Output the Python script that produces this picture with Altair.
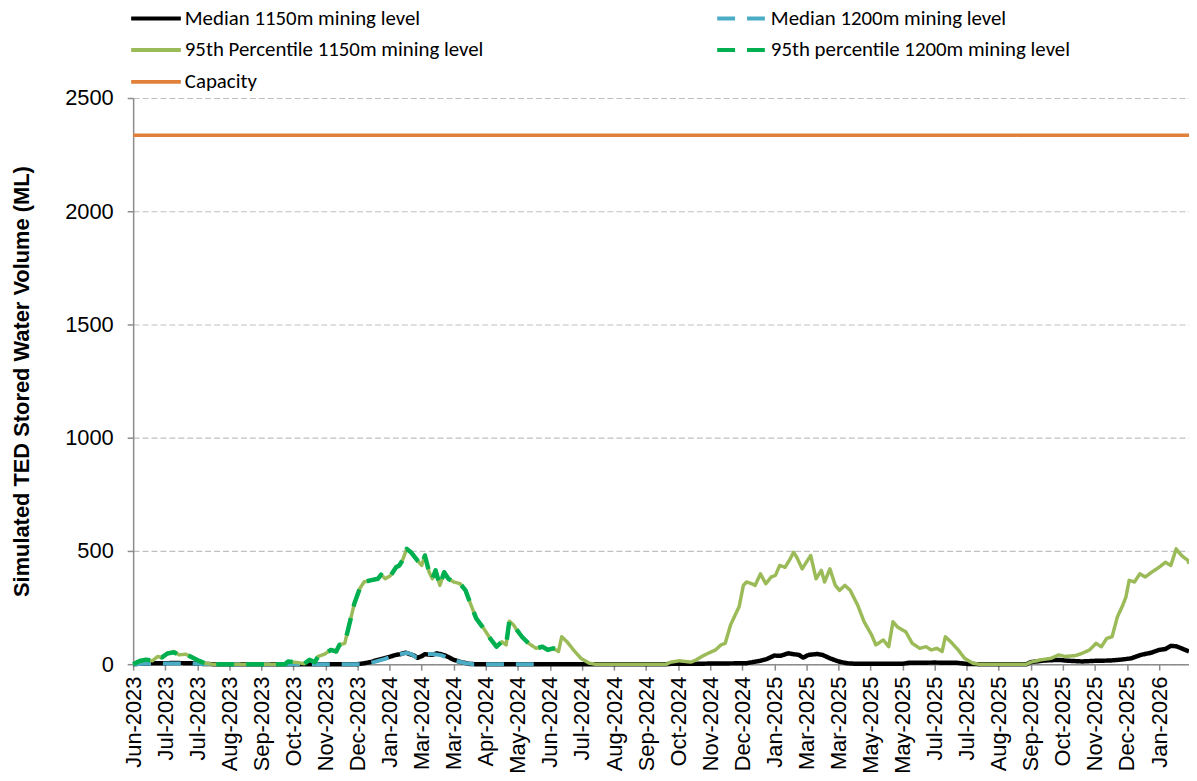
import altair as alt
import pandas as pd

# ---------------- data ----------------
MED_1150 = "Median 1150m mining level"
MED_1200 = "Median 1200m mining level"
P95_1150 = "95th Percentile 1150m mining level"
P95_1200 = "95th percentile 1200m mining level"
CAPACITY = "Capacity"

# legend order (filled column by column: left column first)
LEGEND_ORDER = [MED_1150, P95_1150, CAPACITY, MED_1200, P95_1200]
LEGEND_COLORS = ["#000000", "#9BBB59", "#E0803A", "#4BACC6", "#00B050"]
LEGEND_DASHES = [[1, 0], [1, 0], [1, 0], [18, 12], [18, 12]]

tick_labels = [
    "Jun-2023", "Jul-2023", "Jul-2023", "Aug-2023", "Sep-2023", "Oct-2023",
    "Nov-2023", "Dec-2023", "Jan-2024", "Mar-2024", "Mar-2024", "Apr-2024",
    "May-2024", "Jun-2024", "Jul-2024", "Aug-2024", "Sep-2024", "Oct-2024",
    "Nov-2024", "Dec-2024", "Jan-2025", "Mar-2025", "Mar-2025", "May-2025",
    "May-2025", "Jul-2025", "Jul-2025", "Aug-2025", "Sep-2025", "Oct-2025",
    "Nov-2025", "Dec-2025", "Jan-2026",
]
tick_step = 30
x_end = 988

p95_1150_day = [0, 6, 12, 18, 23, 27, 32, 38, 43, 49, 54, 60, 67, 74, 142, 145, 154, 160, 165, 170,
                173, 179, 185, 190, 193, 198, 201, 204, 207, 212, 216, 222, 229, 232, 236, 241, 246,
                249, 252, 256, 260, 266, 270, 273, 277, 280, 283, 287, 291, 295, 300, 306, 311, 315,
                321, 328, 334, 340, 345, 349, 352, 356, 359, 364, 370, 377, 383, 388, 393, 398, 401,
                406, 412, 419, 427, 432, 499, 503, 511, 522, 527, 532, 538, 545, 550, 554, 559, 564,
                567, 571, 574, 579, 582, 587, 592, 597, 601, 605, 610, 614, 618, 621, 626, 629, 634,
                639, 644, 647, 652, 657, 661, 666, 671, 678, 684, 691, 695, 702, 707, 711, 715, 723,
                729, 736, 742, 747, 752, 757, 760, 765, 772, 778, 786, 791, 836, 840, 849, 859, 866,
                872, 882, 888, 895, 901, 906, 911, 916, 921, 926, 929, 932, 937, 942, 947, 953, 960,
                966, 971, 976, 981, 987, 988]
p95_1150_val = [0, 12, 19, 15, 34, 29, 48, 56, 41, 44, 34, 19, 4, 0, 0, 12, 7, 2, 19, 9,
                34, 44, 63, 56, 85, 92, 151, 209, 268, 333, 363, 370, 377, 395, 377, 392, 428,
                436, 458, 509, 494, 458, 436, 480, 406, 377, 414, 348, 406, 377, 363, 355, 326, 275,
                202, 158, 114, 77, 99, 85, 190, 173, 151, 120, 92, 70, 77, 63, 70, 56, 121,
                99, 63, 26, 4, 0, 0, 9, 15, 9, 19, 34, 48, 63, 85, 92, 173, 224,
                253, 348, 363, 355, 348, 399, 355, 385, 392, 436, 428, 458, 494, 472, 421, 443, 480,
                377, 414, 363, 421, 348, 326, 348, 326, 260, 187, 129, 85, 107, 77, 187, 165, 143,
                92, 70, 77, 63, 70, 56, 121, 99, 63, 26, 4, 0, 0, 9, 19, 26, 41,
                34, 38, 48, 63, 92, 77, 114, 121, 209, 260, 297, 370, 363, 399, 385, 406, 428,
                450, 436, 509, 480, 458, 443]

p95_1200_day = [0, 6, 12, 18, 23, 27, 32, 38, 43, 49, 54, 60, 67, 74, 142, 145, 154, 160, 165, 170,
                173, 179, 185, 190, 193, 198, 201, 204, 207, 212, 216, 222, 229, 232, 236, 241, 246,
                249, 252, 256, 260, 266, 270, 273, 277, 280, 283, 287, 291, 295, 300, 306, 311, 315,
                321, 328, 334, 340, 345, 349, 352, 356, 359, 364, 370, 377, 383, 388, 393, 395]
p95_1200_val = [0, 14, 20, 16, 33, 30, 47, 52, 42, 45, 33, 18, 4, 0, 0, 12, 7, 2, 19, 9,
                34, 44, 63, 56, 85, 92, 151, 209, 268, 333, 363, 370, 377, 395, 377, 392, 428,
                436, 458, 509, 494, 458, 436, 480, 406, 377, 414, 348, 406, 377, 363, 355, 326, 275,
                202, 158, 114, 77, 99, 85, 190, 173, 151, 120, 92, 70, 77, 63, 70, 68]

med_1150_day = [0, 10, 20, 40, 55, 65, 75, 210, 216, 222, 229, 235, 241, 246, 250, 255, 259, 263,
                266, 270, 273, 280, 284, 288, 292, 296, 300, 305, 309, 315, 320, 499, 505, 530, 545,
                574, 577, 587, 593, 600, 606, 613, 618, 623, 627, 632, 640, 645, 652, 660, 668, 675,
                720, 726, 750, 771, 781, 791, 836, 840, 852, 866, 875, 888, 901, 914, 924, 934, 943,
                953, 960, 966, 971, 976, 981, 988]
med_1150_val = [0, 3, 4, 5, 4, 1, 0, 0, 4, 9, 19, 26, 34, 41, 44, 51, 44, 38,
                28, 35, 44, 41, 48, 44, 38, 29, 19, 12, 7, 1, 0, 0, 2, 2, 3,
                4, 7, 15, 23, 38, 37, 48, 44, 41, 29, 41, 45, 41, 26, 12, 4, 2,
                2, 6, 7, 6, 1, 0, 0, 9, 16, 19, 15, 12, 15, 16, 20, 26, 41,
                51, 63, 67, 81, 79, 70, 56]

med_1200_day = [0, 10, 20, 40, 55, 65, 75, 215, 225, 235, 245, 252, 256, 260, 265, 270, 275, 282,
                288, 295, 302, 310, 318, 379]
med_1200_val = [0, 2, 3, 3, 3, 1, 0, 0, 9, 22, 38, 46, 50, 45, 30, 38, 45, 44,
                40, 28, 15, 5, 0, 0]

capacity_day = [0, x_end]
capacity_val = [2336, 2336]

y_ticks = [0, 500, 1000, 1500, 2000, 2500]

# ---------------- build table ----------------
DRAW = [
    (MED_1150, med_1150_day, med_1150_val, 4.5),
    (MED_1200, med_1200_day, med_1200_val, 4.0),
    (P95_1150, p95_1150_day, p95_1150_val, 3.5),
    (P95_1200, p95_1200_day, p95_1200_val, 4.5),
    (CAPACITY, capacity_day, capacity_val, 3.5),
]
df = pd.concat(
    [pd.DataFrame({"day": d, "value": v, "series": n}) for n, d, v, _ in DRAW],
    ignore_index=True,
)

label_list = "[" + ",".join("'" + s + "'" for s in tick_labels) + "]"
label_expr = label_list + "[round(datum.value / " + str(tick_step) + ")]"
tick_values = [i * tick_step for i in range(len(tick_labels))]

x_enc = alt.X(
    "day:Q",
    scale=alt.Scale(domain=[0, x_end], nice=False, zero=False),
    axis=alt.Axis(
        values=tick_values, labelExpr=label_expr, labelAngle=270, title=None,
        grid=False, tickSize=6, labelPadding=6, labelFontSize=22,
        labelFont="Liberation Sans", labelColor="#000000",
        domainColor="#8c8c8c", domainWidth=1.5, tickColor="#8c8c8c", tickWidth=1.5,
        labelOverlap=False, labelBound=False,
    ),
)
y_enc = alt.Y(
    "value:Q",
    scale=alt.Scale(domain=[0, 2500], nice=False),
    axis=alt.Axis(
        values=y_ticks, format="d", title="Simulated TED Stored Water Volume (ML)",
        titleFont="Liberation Sans", titleFontSize=22, titleFontWeight="bold",
        titleColor="#000000", titlePadding=31,
        labelFont="Liberation Sans", labelFontSize=22, labelColor="#000000",
        labelPadding=14, tickSize=6, tickColor="#8c8c8c", tickWidth=1.5,
        domainColor="#8c8c8c", domainWidth=1.5,
        grid=True, gridDash=[6, 3], gridColor="#c0c0c0", gridWidth=1.2,
    ),
)
color_enc = alt.Color(
    "series:N",
    scale=alt.Scale(domain=LEGEND_ORDER, range=LEGEND_COLORS),
    legend=alt.Legend(title=None),
)
dash_enc = alt.StrokeDash(
    "series:N",
    scale=alt.Scale(domain=LEGEND_ORDER, range=LEGEND_DASHES),
    legend=alt.Legend(title=None),
)

layers = []
for name, _, _, w in DRAW:
    layers.append(
        alt.Chart(df)
        .transform_filter(alt.datum.series == name)
        .mark_line(strokeWidth=w, strokeJoin="round")
        .encode(x=x_enc, y=y_enc, color=color_enc, strokeDash=dash_enc)
    )

chart = (
    alt.layer(*layers)
    .properties(
        width=1063, height=570,
        autosize=alt.AutoSizeParams(type="none"),
        padding={"left": 126, "top": 88, "right": 0, "bottom": 115},
    )
    .configure_view(stroke=None)
    .configure_legend(
        orient="none", legendX=-4, legendY=-96, columns=2, columnPadding=233,
        rowPadding=0, clipHeight=31.5, symbolType="stroke", symbolSize=2500,
        symbolStrokeWidth=4,
        labelFont="Carlito, Lato, sans-serif", labelFontSize=21, labelColor="#000000",
        labelOffset=2, padding=0, labelLimit=600,
    )
)

chart.save("out.html", embed_options={"renderer": "svg", "actions": False})
